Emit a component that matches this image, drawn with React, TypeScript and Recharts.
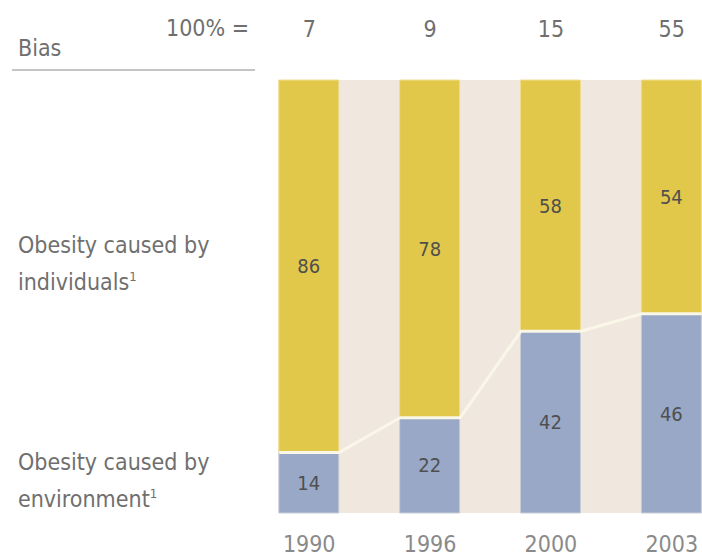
import { Bar, ComposedChart, LabelList, Line, ReferenceArea, XAxis, YAxis } from 'recharts';

document.body.style.margin = '0';

const years = ['1990', '1996', '2000', '2003'];
const totals = [7, 9, 15, 55];
const environment = [14, 22, 42, 46];
const individuals = [86, 78, 58, 54];

const BAR_SIZE = 60;
const STEP = 120.86; // px per category on the numeric x axis
const HALF = BAR_SIZE / 2 / STEP;
const DOMAIN: [number, number] = [-0.25, 3.25];

const FONT = '"DejaVu Sans Condensed", "DejaVu Sans", sans-serif';

const data = years.map((year, i) => ({
    x: i,
    year,
    total: totals[i],
    env: environment[i],
    ind: individuals[i],
}));

// boundary + connector line between the two segments
const boundary = environment.flatMap((v, i) => [
    { x: i - HALF, y: v },
    { x: i + HALF, y: v },
]);

const YearTick = ({ x, y, payload }: any) => (
    <text x={x} y={y + 31} textAnchor="middle" fill="#8a8a8a" fontSize={23} fontFamily={FONT}>
        {years[payload.value]}
    </text>
);

const TotalTick = ({ x, payload }: any) => (
    <text x={x} y={37} textAnchor="middle" fill="#6f6f6f" fontSize={23} fontFamily={FONT}>
        {totals[payload.value]}
    </text>
);

const labelStyle = { fill: '#4f4f4f', fontSize: 20, fontFamily: FONT };

const sideText: React.CSSProperties = {
    position: 'absolute',
    left: 18,
    fontFamily: FONT,
    fontSize: 23,
    color: '#6f6f6f',
    lineHeight: '32px',
    whiteSpace: 'nowrap',
};

export default function App() {
    return (
        <div style={{ position: 'relative', width: 702, height: 560, background: '#fff' }}>
            <ComposedChart width={702} height={560} data={data} margin={{ top: 0, right: 0, bottom: 0, left: 279 }}>
                <XAxis
                    xAxisId="bottom"
                    dataKey="x"
                    type="number"
                    domain={DOMAIN}
                    ticks={[0, 1, 2, 3]}
                    axisLine={false}
                    tickLine={false}
                    height={47}
                    tick={<YearTick />}
                />
                <XAxis
                    xAxisId="top"
                    orientation="top"
                    dataKey="x"
                    type="number"
                    domain={DOMAIN}
                    ticks={[0, 1, 2, 3]}
                    axisLine={false}
                    tickLine={false}
                    height={80}
                    tick={<TotalTick />}
                />
                <XAxis xAxisId="line" dataKey="x" type="number" domain={DOMAIN} hide />
                <YAxis domain={[0, 100]} hide />
                <ReferenceArea xAxisId="bottom" x1={DOMAIN[0]} x2={DOMAIN[1]} y1={0} y2={100} fill="#F0E8DF" fillOpacity={1} stroke="none" />
                <Bar xAxisId="bottom" dataKey="env" stackId="a" fill="#98A8C6" stroke="#C9CDD6" strokeWidth={1} barSize={BAR_SIZE} isAnimationActive={false}>
                    <LabelList dataKey="env" position="center" style={labelStyle} />
                </Bar>
                <Bar xAxisId="bottom" dataKey="ind" stackId="a" fill="#E2C84A" stroke="#EEDD8E" strokeWidth={1} barSize={BAR_SIZE} isAnimationActive={false}>
                    <LabelList dataKey="ind" position="center" style={labelStyle} />
                </Bar>
                <Line
                    xAxisId="line"
                    data={boundary}
                    dataKey="y"
                    type="linear"
                    stroke="#FAF6E8"
                    strokeWidth={3}
                    dot={false}
                    isAnimationActive={false}
                />
            </ComposedChart>
            <div style={{ ...sideText, top: 32 }}>Bias</div>
            <div style={{ ...sideText, left: 166, top: 12 }}>100% =</div>
            <div style={{ position: 'absolute', left: 12, top: 69, width: 243, height: 2, background: '#c4c4c4' }} />
            <div style={{ ...sideText, top: 229 }}>
                Obesity caused by
                <br />
                individuals<sup style={{ fontSize: 13 }}>1</sup>
            </div>
            <div style={{ ...sideText, top: 446 }}>
                Obesity caused by
                <br />
                environment<sup style={{ fontSize: 13 }}>1</sup>
            </div>
        </div>
    );
}
